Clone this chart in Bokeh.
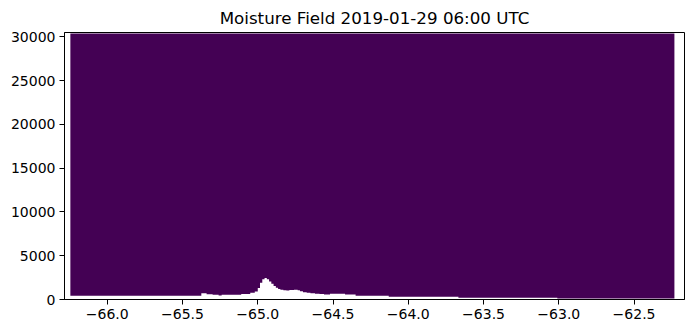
from bokeh.plotting import figure
from bokeh.models import FixedTicker, Range1d
from bokeh.embed import file_html
from bokeh.resources import INLINE

# Terrain profile (segment start longitude, terrain height in m)
seg_lon = [-66.245, -65.375, -65.34, -65.30, -65.26, -65.24, -65.11, -65.05, -65.02,
           -65.00, -64.985, -64.97, -64.955, -64.94, -64.925, -64.91, -64.895, -64.88,
           -64.865, -64.85, -64.83, -64.81, -64.79, -64.76, -64.735, -64.72, -64.70,
           -64.675, -64.65, -64.62, -64.59, -64.56, -64.52, -64.42, -64.35, -64.13,
           -63.667, -63.01]
seg_height = [440, 700, 600, 540, 460, 540, 620, 760, 900,
              1300, 1900, 2300, 2450, 2300, 2050, 1800, 1550, 1350,
              1200, 1120, 1060, 1030, 1080, 1100, 1050, 930, 840,
              770, 720, 650, 620, 580, 650, 560, 420, 300,
              190, 100]
lon_end = -62.232
model_top = 30370

x_ticks = [-66.0, -65.5, -65.0, -64.5, -64.0, -63.5, -63.0, -62.5]
y_ticks = [0, 5000, 10000, 15000, 20000, 25000, 30000]

# build the outline of the filled field: stepped terrain bottom, flat model top
rights = seg_lon[1:] + [lon_end]
xs, ys = [], []
for l, r, h in zip(seg_lon, rights, seg_height):
    xs += [l, r]
    ys += [h, h]
xs += [lon_end, seg_lon[0]]
ys += [model_top, model_top]

p = figure(width=694, height=333, output_backend="svg", toolbar_location=None,
           x_range=Range1d(-66.284, -62.165), y_range=Range1d(0, 30480),
           title="Moisture Field 2019-01-29 06:00 UTC",
           min_border_left=64, min_border_right=10, min_border_top=30, min_border_bottom=34)

p.patch(x=xs, y=ys, fill_color="#440154", line_color=None)

p.title.text_font = "DejaVu Sans"
p.title.text_font_size = "16.7px"
p.title.text_font_style = "normal"
p.title.align = "center"
p.title.text_color = "black"

p.xgrid.visible = False
p.ygrid.visible = False
p.outline_line_color = "black"
p.outline_line_width = 1
p.background_fill_color = "white"

p.xaxis.ticker = FixedTicker(ticks=x_ticks)
p.yaxis.ticker = FixedTicker(ticks=y_ticks)
p.xaxis.major_label_overrides = {t: ("\u2212" + f"{abs(t):.1f}") for t in x_ticks}
p.yaxis.major_label_overrides = {t: str(t) for t in y_ticks}

for ax in (p.xaxis, p.yaxis):
    ax.major_label_text_font = "DejaVu Sans"
    ax.major_label_text_font_size = "14px"
    ax.major_label_text_color = "black"
    ax.axis_line_color = "black"
    ax.major_tick_line_color = "black"
    ax.major_tick_out = 5
    ax.major_tick_in = 0
    ax.minor_tick_line_color = None
    ax.major_label_standoff = 4

open("out.html", "w").write(file_html(p, INLINE))
